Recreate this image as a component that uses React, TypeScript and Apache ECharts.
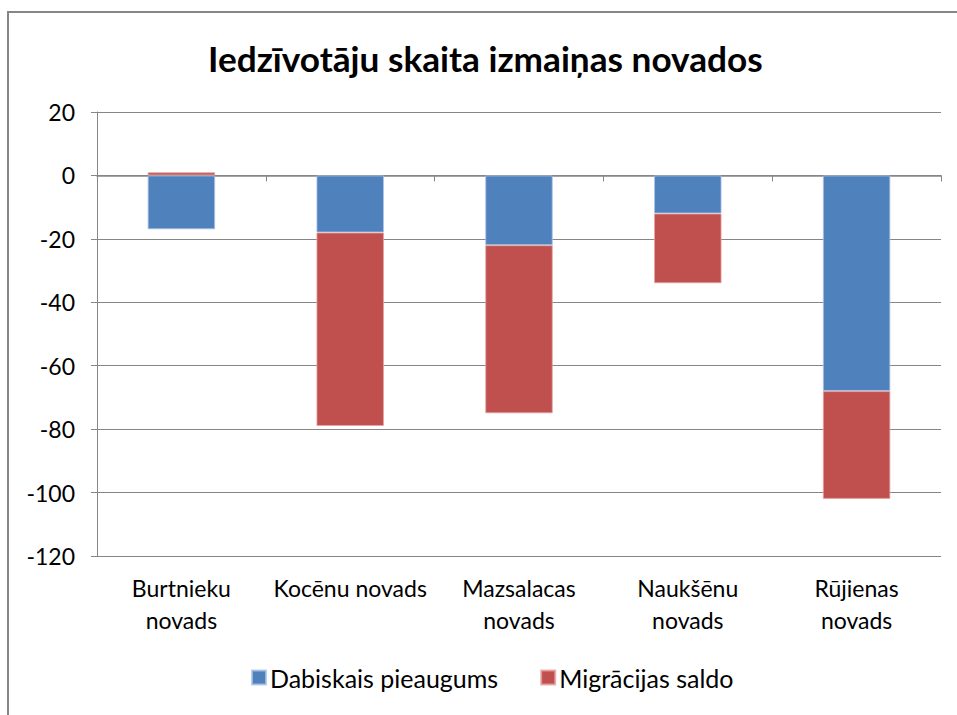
import React, { useEffect, useRef } from "react";
import * as echarts from "echarts";

const categories = ["Burtnieku\nnovads", "Kocēnu novads", "Mazsalacas\nnovads", "Naukšēnu\nnovads", "Rūjienas\nnovads"];
const dabiskais = [-17, -18, -22, -12, -68];
const migracijas = [1, -61, -53, -22, -34];
const seriesNames = ["Dabiskais pieaugums", "Migrācijas saldo"];
const titleText = "Iedzīvotāju skaita izmaiņas novados";

const FONT = "Lato, 'Noto Sans', sans-serif";

export default function App() {
  const ref = useRef<HTMLDivElement>(null);
  useEffect(() => {
    if (!ref.current) return;
    const chart = echarts.init(ref.current, undefined, { renderer: "svg" });
    chart.setOption({
      animation: false,
      backgroundColor: "#ffffff",
      textStyle: { fontFamily: FONT },
      title: {
        text: titleText,
        left: 203,
        top: 35,
        textStyle: { fontFamily: FONT, fontSize: 35.2, fontWeight: "bold", color: "#000" },
      },
      graphic: [
        {
          type: "rect",
          shape: { x: 8, y: 12, width: 980, height: 740 },
          style: { fill: "none", stroke: "#868686", lineWidth: 2 },
          silent: true,
        },
      ],
      legend: {
        bottom: 20,
        left: 246,
        itemWidth: 14,
        itemHeight: 14,
        itemGap: 42,
        icon: "rect",
        textStyle: { fontFamily: FONT, fontSize: 25, color: "#000", padding: [0, 0, 0, -1] },
        data: seriesNames,
      },
      grid: { left: 97, right: 16, top: 112, bottom: 159, containLabel: false },
      xAxis: [
        {
          type: "category",
          data: categories,
          position: "bottom",
          axisLine: { show: false, onZero: false },
          axisTick: { show: false },
          axisLabel: { interval: 0, fontFamily: FONT, fontSize: 23, color: "#000", margin: 16, lineHeight: 32 },
        },
        {
          type: "category",
          data: categories,
          position: "bottom",
          axisLine: { show: true, onZero: true, lineStyle: { color: "#868686", width: 1.5 } },
          axisTick: { show: true, length: 6, interval: 0, lineStyle: { color: "#868686" } },
          axisLabel: { show: false },
        },
      ],
      yAxis: {
        type: "value",
        min: -120,
        max: 20,
        interval: 20,
        axisLine: { show: true, lineStyle: { color: "#868686" } },
        axisTick: { show: true, length: 6, lineStyle: { color: "#868686" } },
        splitLine: { show: true, lineStyle: { color: "#868686", width: 1 } },
        axisLabel: { fontFamily: FONT, fontSize: 23, color: "#000", margin: 22 },
      },
      series: [
        {
          name: seriesNames[0],
          type: "bar",
          stack: "total",
          barWidth: "40%",
          data: dabiskais,
          itemStyle: { color: "#4F81BD", borderColor: "rgba(170,195,230,0.8)", borderWidth: 1 },
        },
        {
          name: seriesNames[1],
          type: "bar",
          stack: "total",
          barWidth: "40%",
          data: migracijas,
          itemStyle: { color: "#C0504D", borderColor: "rgba(230,160,160,0.8)", borderWidth: 1 },
        },
      ],
    });
    return () => chart.dispose();
  }, []);
  return (
    <div
      ref={ref}
      style={{ position: "fixed", left: 0, top: 0, width: 957, height: 715 }}
    />
  );
}
